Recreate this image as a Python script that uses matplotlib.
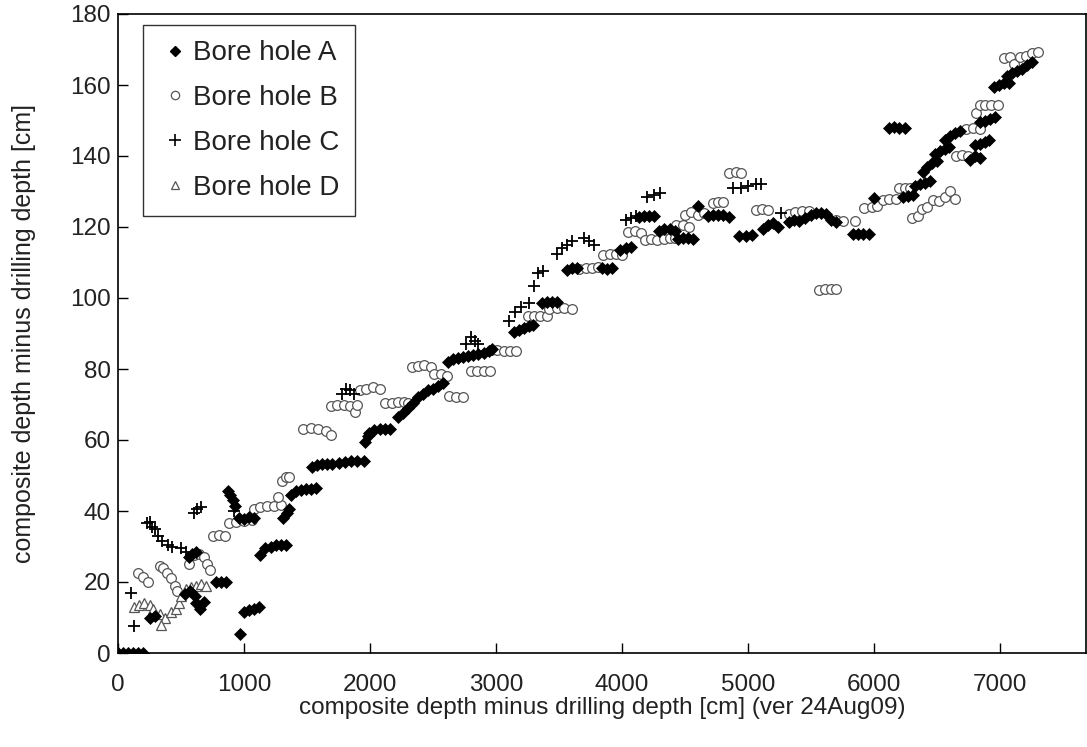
import matplotlib
matplotlib.use("Agg")
import matplotlib.pyplot as plt
from matplotlib.lines import Line2D

plt.rcParams['font.family'] = ['Liberation Sans', 'DejaVu Sans']

# ---------------- data ----------------
a_x = [0, 40, 80, 120, 160, 200,
       250, 290,
       530, 570, 610,
       620, 650, 680,
       560, 590, 620,
       780, 820, 860,
       870, 890, 910, 930,
       967,
       960, 1000, 1040, 1080,
       1000, 1040, 1080, 1120,
       1130, 1170, 1210, 1250, 1290, 1330,
       1310, 1340, 1360,
       1370, 1410, 1450, 1490, 1530, 1570,
       1540, 1580, 1620, 1660, 1700, 1750, 1800, 1850, 1900, 1950,
       1960, 1980,
       1990, 2030, 2080, 2120, 2160,
       2220, 2260, 2300, 2340, 2380, 2420, 2460, 2500, 2540, 2580,
       2620, 2660, 2700, 2740, 2780, 2820, 2860, 2900, 2940, 2970,
       3140, 3180, 3220, 3260, 3290,
       3360, 3400, 3440, 3480,
       3560, 3600, 3640,
       3840, 3880, 3920,
       3980, 4030, 4070,
       4130, 4170, 4210, 4250,
       4290, 4330, 4380, 4420,
       4440, 4480, 4520, 4560,
       4600,
       4680, 4720, 4760, 4800, 4850,
       4930, 4980, 5030,
       5120, 5160, 5200, 5240,
       5320, 5360, 5400, 5450,
       5500, 5540, 5580, 5620,
       5660, 5700,
       5830, 5870, 5910, 5960,
       6000,
       6120, 6160, 6200, 6240,
       6230, 6270, 6310,
       6320, 6360, 6400, 6440,
       6390, 6420, 6460, 6500,
       6480, 6520, 6560, 6590,
       6560, 6600, 6640, 6680,
       6760, 6800, 6840,
       6800, 6840, 6880, 6910,
       6840, 6880, 6920, 6960,
       6950, 6990, 7030, 7070,
       7050, 7090, 7130, 7170, 7210, 7250]
a_y = [0, 0, 0, 0, 0, 0,
       10, 10.5,
       16.5, 17.5, 16,
       14, 12.5, 14.5,
       27, 28, 28.5,
       20, 20, 20,
       45.5, 44.5, 43, 41.5,
       5.4,
       38, 37.8, 38.2, 38,
       11.5, 12, 12.5, 13,
       27.5, 29.5, 30, 30.3, 30.5, 30.5,
       38, 39.5, 40.5,
       44.5, 45.5, 46, 46.2, 46.3, 46.5,
       52.5, 53, 53.2, 53.3, 53.3, 53.5, 53.7, 54, 54, 54,
       59.5, 61,
       62, 62.8, 63, 63, 63,
       66.5, 67.5, 69, 70.5, 72, 73, 74, 74.5, 75.2, 76,
       82, 82.8, 83.2, 83.5, 83.7, 84, 84.2, 84.5, 85, 85.5,
       90.5, 91, 91.5, 92, 92.5,
       98.5, 99, 99, 98.8,
       108, 108.5, 108.5,
       108.5, 108.3, 108.5,
       113.5, 114, 114.5,
       122.8, 123, 123, 123,
       119, 119.3, 119.3, 119,
       116.5, 116.8, 117, 116.5,
       125.8,
       123, 123.3, 123.5, 123.3, 122.8,
       117.5, 117.5, 117.7,
       119.5, 120.5, 121, 120,
       121.5, 122, 121.8, 122.5,
       123.5, 124, 124, 123.7,
       122, 121.5,
       118, 118, 118, 118,
       128.3,
       148, 148.2, 148, 147.8,
       128.5, 128.8, 129,
       131.5, 132, 132.5, 133,
       135.5, 137, 138, 138.5,
       140.5, 141.5, 142, 142.5,
       144.5, 145.5, 146.5, 147,
       139, 140, 139.5,
       143, 143.5, 144, 144.5,
       149.5, 150, 150.5, 151,
       159.5, 160, 160.5, 160.5,
       162.5, 163.5, 164, 164.5, 165.5, 166.5]

b_x = [160, 200, 240,
       330, 360, 390, 420, 450, 470,
       560, 600, 640, 680, 710, 730,
       750, 800, 850,
       880, 940, 1000, 1060,
       1080, 1130, 1180, 1240, 1290,
       1270, 1300, 1330, 1360,
       1470, 1530, 1590, 1650, 1690,
       1690, 1740, 1790, 1840, 1880, 1900,
       1920, 1970, 2020, 2080,
       2120, 2170, 2220, 2270, 2300,
       2330, 2380, 2430, 2480,
       2510, 2560, 2610,
       2630, 2680, 2740,
       2800, 2850, 2900, 2950,
       2960, 3010, 3060, 3110, 3160,
       3250, 3300, 3350, 3400,
       3420, 3480, 3540, 3600,
       3660, 3710, 3760, 3810,
       3850, 3900, 3950, 4000,
       4050, 4100, 4150,
       4180, 4230, 4280, 4330, 4380, 4420,
       4430, 4480, 4530,
       4500, 4550, 4600, 4650,
       4720, 4760, 4800,
       4850, 4900, 4940,
       5060, 5110, 5160,
       5320, 5370, 5430, 5480,
       5560, 5610, 5660, 5700,
       5700, 5750,
       5850,
       5920, 5980, 6020,
       6070, 6120, 6170,
       6200, 6240, 6280,
       6300, 6350,
       6380, 6420, 6470,
       6510, 6560, 6600, 6640,
       6650, 6700, 6740,
       6730, 6780, 6840,
       6810, 6840, 6880, 6930, 6980,
       7030, 7080, 7110,
       7160, 7200, 7250, 7300]
b_y = [22.5, 21.5, 20,
       24.5, 24, 22.5, 21, 19, 17.5,
       25, 27.5, 28, 27, 25, 23.5,
       33, 33.3, 33,
       36.5, 37, 37.2, 37.5,
       40.5, 41, 41.3, 41.5, 41.8,
       44, 48.5, 49.5, 49.5,
       63, 63.3, 63, 62.5, 61.5,
       69.5, 70, 70, 69.5, 68, 70,
       74, 74.5, 75, 74.5,
       70.5, 70.5, 70.7, 70.8, 70.5,
       80.5, 80.8, 81, 80.7,
       78.5, 78.7, 78,
       72.3, 72.2, 72,
       79.5, 79.3, 79.5, 79.3,
       85.3, 85.3, 85.2, 85.2, 85,
       95, 94.8, 95, 95,
       97, 97.2, 97.2, 97,
       108.3, 108.5, 108.5, 108.7,
       112, 112.3, 112.5, 112,
       118.5, 118.8, 118.2,
       116.2, 116.5, 116.3, 116.5, 116.8, 117,
       120.5, 120.5, 120,
       123.5, 124.3, 123.5, 124,
       126.8, 127, 127,
       135.3, 135.5, 135.3,
       124.8, 125, 124.7,
       123.8, 124.2, 124.5, 124.5,
       102.2, 102.5, 102.5, 102.5,
       122, 121.8,
       121.8,
       125.3, 125.5, 125.8,
       127.5, 128, 128,
       131, 131, 131,
       122.5, 123,
       125, 125.5, 127.5,
       127.3, 128.5, 130, 128,
       140, 140.3, 140,
       147.5, 147.8, 147.5,
       152, 154.3, 154.5, 154.5, 154.3,
       167.5, 168, 166,
       168, 168.3, 169, 169.2]

c_x = [100, 130,
       230, 250, 270, 290,
       320, 350, 400, 430,
       500, 540,
       600, 630, 660,
       920,
       1780, 1810, 1840, 1870,
       2760, 2800, 2830, 2860,
       3100, 3150, 3200, 3260,
       3300, 3330, 3370,
       3480, 3520, 3560, 3600,
       3700, 3740, 3780,
       4030, 4070, 4110,
       4200, 4250, 4300,
       4880, 4940, 5000, 5060, 5100,
       5260]
c_y = [16.8, 7.5,
       36.5, 37, 35.5, 34.8,
       33, 31.5, 30.5, 30,
       29.5, 28.5,
       39.5, 40.5, 41,
       40,
       73, 74.5, 74, 73,
       87, 89, 88, 87,
       93.5, 96, 97.5, 98.5,
       103.5, 107, 107.5,
       112.5, 114, 115, 116,
       117, 116, 115,
       122, 122.5, 123,
       128.5, 129, 129.5,
       131, 131, 131.5, 132, 132,
       124]

d_x = [130, 170, 210, 250, 280,
       330, 370, 420, 460,
       340,
       480, 500,
       540, 580, 620, 660, 700]
d_y = [13, 13.5, 14, 13.5, 12.5,
       11, 10, 11.5, 12.5,
       8,
       14, 16,
       18, 18.5, 19, 19.5, 19]

labels = ["Bore hole A", "Bore hole B", "Bore hole C", "Bore hole D"]
x_ticks = [0, 1000, 2000, 3000, 4000, 5000, 6000, 7000]
y_ticks = [0, 20, 40, 60, 80, 100, 120, 140, 160, 180]
x_label = "composite depth minus drilling depth [cm] (ver 24Aug09)"
y_label = "composite depth minus drilling depth [cm]"

# ---------------- figure ----------------
W, H = 1087, 747
fig = plt.figure(figsize=(W / 100, H / 100), dpi=100)
ax = fig.add_axes([118 / W, 1 - 653 / H, (1086 - 118) / W, (653 - 14) / H])

grey = '#555555'
ax.plot(b_x, b_y, linestyle='none', marker='o', ms=7, mfc='white',
        mec=grey, mew=0.9, zorder=3)
ax.plot(a_x, a_y, linestyle='none', marker='D', ms=6, mfc='black',
        mec='black', mew=0.5, zorder=4)
ax.plot(d_x, d_y, linestyle='none', marker='^', ms=7, mfc='white',
        mec=grey, mew=0.9, zorder=3)
ax.plot(c_x, c_y, linestyle='none', marker='+', ms=9, color='black',
        mew=1.3, zorder=5)

ax.set_xlim(0, 7680)
ax.set_ylim(0, 180)
ax.set_xticks(x_ticks)
ax.set_yticks(y_ticks)
ax.tick_params(direction='in', length=7, width=1, labelsize=17.5,
               colors='black', labelcolor='#222222')
ax.tick_params(axis='x', pad=15)
ax.tick_params(axis='y', pad=5)
for s in ax.spines.values():
    s.set_linewidth(1.2)

ax.set_xlabel(x_label, fontsize=17.5, color='#222222', labelpad=1)
ax.set_ylabel(y_label, fontsize=18, color='#222222', labelpad=25)

handles = [
    Line2D([], [], linestyle='none', marker='D', ms=5, mfc='black', mec='black'),
    Line2D([], [], linestyle='none', marker='o', ms=6, mfc='white', mec=grey, mew=0.9),
    Line2D([], [], linestyle='none', marker='+', ms=8, color='black', mew=1.2),
    Line2D([], [], linestyle='none', marker='^', ms=6, mfc='white', mec=grey, mew=0.9),
]
leg = ax.legend(handles, labels, loc='upper left',
                bbox_to_anchor=((143 - 118) / (1086 - 118), 1 - (25 - 14) / (653 - 14)),
                borderaxespad=0, fontsize=20, frameon=True, fancybox=False,
                edgecolor='black', handlelength=1.2, handletextpad=0.05,
                labelspacing=0.68, borderpad=0.55, labelcolor='#222222')
leg.get_frame().set_linewidth(1.0)

fig.savefig("out.png", dpi=100)
